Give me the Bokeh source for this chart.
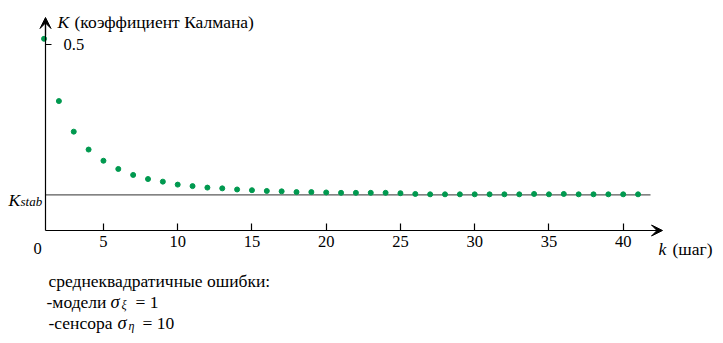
from bokeh.plotting import figure
from bokeh.models import Range1d, LinearAxis, FixedTicker, Arrow, VeeHead
from bokeh.core.properties import value
from bokeh.embed import file_html
from bokeh.resources import INLINE

# ---- data ----
steps = list(range(1, 42))
gain = [0.514, 0.347, 0.265, 0.217, 0.187, 0.165, 0.149, 0.138, 0.131, 0.123,
        0.119, 0.115, 0.113, 0.110, 0.108, 0.106, 0.105, 0.103, 0.103, 0.102,
        0.101, 0.101, 0.101, 0.101, 0.100, 0.098, 0.097, 0.097, 0.097, 0.097,
        0.097, 0.097, 0.097, 0.098, 0.097, 0.098, 0.097, 0.097, 0.097, 0.097,
        0.097]
k_stab = 0.0957
x_ticks = [5, 10, 15, 20, 25, 30, 35, 40]
y_ticks = [0.5]
y_tick_labels = ["0.5"]

# ---- pixel geometry helpers ----
W, H = 723, 343
X0PX, XPPU = 28.7, 14.85
Y0PX, YPPU = 230.0, 373.0


def dx(px):
    return (px - X0PX) / XPPU


def dy(py):
    return (Y0PX - py) / YPPU


FONT = "Liberation Serif"
GREEN = "#00994f"

p = figure(width=W, height=H, output_backend="svg", toolbar_location=None,
           x_range=Range1d(dx(0), dx(W)), y_range=Range1d(dy(H), dy(0)),
           x_axis_location=None, y_axis_location=None, min_border=0)
p.outline_line_color = None
p.xgrid.visible = False
p.ygrid.visible = False
p.background_fill_color = "white"
p.border_fill_color = "white"

# x axis
xax = LinearAxis(fixed_location=0, bounds=(dx(45), dx(658)),
                 ticker=FixedTicker(ticks=x_ticks))
xax.major_tick_in = 7
xax.major_tick_out = 0
xax.minor_tick_line_color = None
xax.axis_line_color = "black"
xax.axis_line_width = 1.2
xax.major_tick_line_color = "black"
xax.major_tick_line_width = 1.2
xax.major_label_text_font = FONT
xax.major_label_text_font_size = "16.5px"
xax.major_label_text_color = "black"
xax.major_label_standoff = 5
p.add_layout(xax, "below")

# y axis
yax = LinearAxis(fixed_location=dx(45), bounds=(0, dy(20)),
                 ticker=FixedTicker(ticks=y_ticks))
yax.major_label_overrides = {y_ticks[0]: y_tick_labels[0]}
yax.major_tick_in = 0
yax.major_tick_out = 6
yax.minor_tick_line_color = None
yax.axis_line_color = "black"
yax.axis_line_width = 1.2
yax.major_tick_line_color = "black"
yax.major_tick_line_width = 1.2
yax.major_label_text_font = FONT
yax.major_label_text_font_size = "16.5px"
yax.major_label_text_color = "black"
yax.major_label_standoff = 12
p.add_layout(yax, "right")

# arrow heads
p.add_layout(Arrow(end=VeeHead(size=11, fill_color="black", line_color="black", line_width=1),
                   x_start=dx(645), y_start=0, x_end=dx(662), y_end=0,
                   line_color="black", line_width=1.2))
p.add_layout(Arrow(end=VeeHead(size=11, fill_color="black", line_color="black", line_width=1),
                   x_start=dx(45), y_start=dy(35), x_end=dx(45), y_end=dy(17),
                   line_color="black", line_width=1.2))

# stationary gain line
p.segment(x0=[dx(45)], y0=[k_stab], x1=[dx(650)], y1=[k_stab],
          line_color="#5a5a5a", line_width=1.2)

# points
p.scatter(steps, gain, size=5, color=GREEN, line_color=GREEN)


def txt(px, py, s, size="17.5px", style="normal", align="left"):
    p.text(x=[dx(px)], y=[dy(py)], text=[s], text_font=value(FONT),
           text_font_size=value(size), text_font_style=style,
           text_align=align, text_baseline="alphabetic", text_color="black")


# axis titles
txt(57, 21, "K", style="italic")
txt(74, 21, "(коэффициент Калмана)")
txt(658, 248, "k", style="italic")
txt(672, 248, "(шаг)")
txt(37, 248, "0", size="16.5px", align="center")

# K_stab label
txt(8, 199, "K", style="italic")
txt(20, 201, "stab", size="13px", style="italic")

# notes
txt(48, 280, "среднеквадратичные ошибки:")
txt(46, 301, "-модели")
txt(110, 301, "σ", style="italic", size="18.5px")
txt(121, 304, "ξ", style="italic", size="12px")
txt(135, 301, "= 1")
txt(48, 322, "-сенсора")
txt(117, 322, "σ", style="italic", size="18.5px")
txt(128, 325, "η", style="italic", size="12px")
txt(142, 322, "= 10")

open("out.html", "w").write(file_html(p, INLINE))
